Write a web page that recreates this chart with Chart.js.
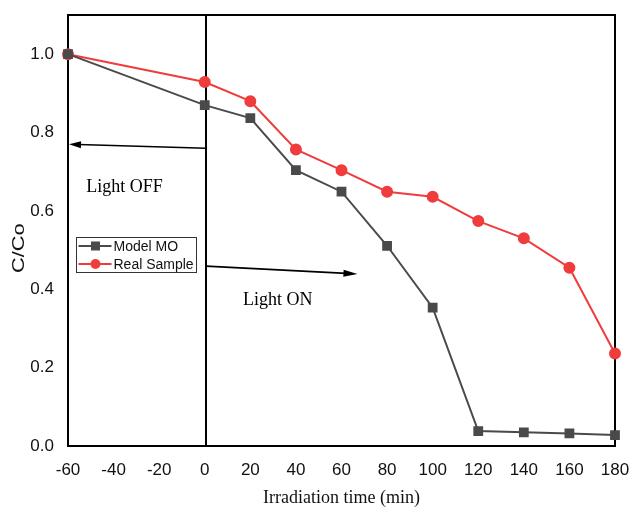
<!DOCTYPE html>
<html>
<head>
<meta charset="utf-8">
<script src="https://cdn.jsdelivr.net/npm/chart.js@4/dist/chart.umd.min.js"></script>
<style>
  html, body { margin: 0; padding: 0; background: #fff; }
  #wrap { width: 631px; height: 513px; }
</style>
</head>
<body>
<div id="wrap"><canvas id="chart" width="631" height="513"></canvas></div>
<script>
const timeMin = [-60, 0, 20, 40, 60, 80, 100, 120, 140, 160, 180];
const modelMO = [1.0, 0.870, 0.837, 0.704, 0.649, 0.511, 0.353, 0.038, 0.035, 0.032, 0.028];
const realSample = [1.0, 0.929, 0.880, 0.757, 0.704, 0.649, 0.636, 0.574, 0.530, 0.455, 0.236];
const seriesNames = ['Model MO', 'Real Sample'];
const yTicks = [0, 0.2, 0.4, 0.6, 0.8, 1.0];
const yTitle = 'C/Co';

const GREY = '#4a4a4a';
const RED = '#f03c3c';

const toPoints = vals => timeMin.map((t, i) => ({ x: t, y: vals[i] }));

function arrow(ctx, x1, y1, x2, y2, headLen, headW) {
    const ang = Math.atan2(y2 - y1, x2 - x1);
    ctx.beginPath();
    ctx.moveTo(x1, y1);
    ctx.lineTo(x2 - Math.cos(ang) * headLen * 0.8, y2 - Math.sin(ang) * headLen * 0.8);
    ctx.stroke();
    ctx.beginPath();
    ctx.moveTo(x2, y2);
    ctx.lineTo(x2 - Math.cos(ang) * headLen - Math.sin(ang) * headW,
               y2 - Math.sin(ang) * headLen + Math.cos(ang) * headW);
    ctx.lineTo(x2 - Math.cos(ang) * headLen + Math.sin(ang) * headW,
               y2 - Math.sin(ang) * headLen - Math.cos(ang) * headW);
    ctx.closePath();
    ctx.fill();
}

// fixed axis boxes so the plot area lands where it should
function fixBox(size) {
    return s => {
        if (s.isHorizontal()) s.height = size; else s.width = size;
        s.paddingTop = s.paddingBottom = s.paddingLeft = s.paddingRight = 0;
    };
}

// frame, light switch line, arrows and labels
const annotations = {
    id: 'annotations',
    beforeDatasetsDraw(chart) {
        const { ctx, chartArea: a, scales: { x, y } } = chart;
        ctx.save();
        ctx.strokeStyle = '#000';
        ctx.fillStyle = '#000';
        ctx.lineWidth = 2;
        ctx.strokeRect(a.left, a.top, a.right - a.left, a.bottom - a.top);

        // light switched on at t = 0
        const x0 = Math.round(x.getPixelForValue(0)) + 1;
        ctx.beginPath();
        ctx.moveTo(x0, a.top);
        ctx.lineTo(x0, a.bottom);
        ctx.stroke();

        ctx.lineWidth = 1.6;
        arrow(ctx, x0, y.getPixelForValue(0.760), x.getPixelForValue(-60) + 1, y.getPixelForValue(0.770), 12, 3.5);
        arrow(ctx, x0, y.getPixelForValue(0.459), x.getPixelForValue(67), y.getPixelForValue(0.439), 14, 3.5);

        ctx.font = '18px "Liberation Serif", "Times New Roman", serif';
        ctx.textBaseline = 'middle';
        ctx.textAlign = 'left';
        ctx.fillText('Light OFF', x.getPixelForValue(-52), y.getPixelForValue(0.661));
        ctx.fillText('Light ON', x.getPixelForValue(16.8), y.getPixelForValue(0.372));

        // y axis title, a little below the middle, stretched along its length
        ctx.fillStyle = '#111';
        ctx.font = '17px "Liberation Sans", Arial, sans-serif';
        ctx.textAlign = 'center';
        ctx.translate(19, y.getPixelForValue(0.505));
        ctx.rotate(-Math.PI / 2);
        ctx.scale(1.28, 1);
        ctx.fillText(yTitle, 0, 0);
        ctx.restore();
    },
    afterDatasetsDraw(chart) {
        const { ctx, scales: { x, y } } = chart;
        const left = Math.round(x.getPixelForValue(-56.5)) + 0.5;
        const top = Math.round(y.getPixelForValue(0.533)) + 0.5;
        ctx.save();
        ctx.fillStyle = '#fff';
        ctx.fillRect(left, top, 120, 35);
        ctx.strokeStyle = '#333';
        ctx.lineWidth = 1;
        ctx.strokeRect(left, top, 120, 35);
        ctx.font = '14px "Liberation Sans", Arial, sans-serif';
        ctx.textBaseline = 'middle';
        chart.data.datasets.forEach((ds, i) => {
            const cy = top + 8.5 + i * 18;
            ctx.strokeStyle = ds.borderColor;
            ctx.fillStyle = ds.backgroundColor;
            ctx.lineWidth = 2;
            ctx.beginPath();
            ctx.moveTo(left + 2, cy);
            ctx.lineTo(left + 35, cy);
            ctx.stroke();
            if (ds.pointStyle === 'rect') {
                ctx.fillRect(left + 14.5, cy - 4.5, 9, 9);
            } else {
                ctx.beginPath();
                ctx.arc(left + 19, cy, 5, 0, Math.PI * 2);
                ctx.fill();
            }
            ctx.fillStyle = '#111';
            ctx.fillText(ds.label, left + 37, cy + 1);
        });
        ctx.restore();
    }
};

new Chart(document.getElementById('chart'), {
    type: 'line',
    data: {
        datasets: [
            {
                label: seriesNames[0],
                data: toPoints(modelMO),
                borderColor: GREY,
                backgroundColor: GREY,
                borderWidth: 2,
                pointStyle: 'rect',
                pointRadius: 5.5,
                clip: false
            },
            {
                label: seriesNames[1],
                data: toPoints(realSample),
                borderColor: RED,
                backgroundColor: RED,
                borderWidth: 2,
                pointStyle: 'circle',
                pointRadius: 5,
                clip: false
            }
        ]
    },
    options: {
        responsive: false,
        animation: false,
        layout: { padding: { top: 15, right: 16, left: 0, bottom: 0 } },
        plugins: {
            legend: { display: false },
            tooltip: { enabled: false }
        },
        scales: {
            x: {
                type: 'linear',
                min: -60,
                max: 180,
                grid: { display: false, drawTicks: false },
                border: { display: false },
                ticks: {
                    stepSize: 20,
                    padding: 14,
                    color: '#111',
                    font: { family: '"Liberation Sans", Arial, sans-serif', size: 17 }
                },
                title: {
                    display: true,
                    text: 'Irradiation time (min)',
                    color: '#111',
                    padding: { top: 4, bottom: 4 },
                    font: { family: '"Liberation Serif", "Times New Roman", serif', size: 18 }
                },
                afterFit: fixBox(67)
            },
            y: {
                min: 0,
                max: 1.1,
                grid: { display: false, drawTicks: false },
                border: { display: false },
                afterBuildTicks: s => { s.ticks = yTicks.map(v => ({ value: v })); },
                ticks: {
                    padding: 14,
                    color: '#111',
                    callback: v => v.toFixed(1),
                    font: { family: '"Liberation Sans", Arial, sans-serif', size: 17 }
                },
                afterFit: fixBox(68)
            }
        }
    },
    plugins: [annotations]
});
</script>
</body>
</html>
